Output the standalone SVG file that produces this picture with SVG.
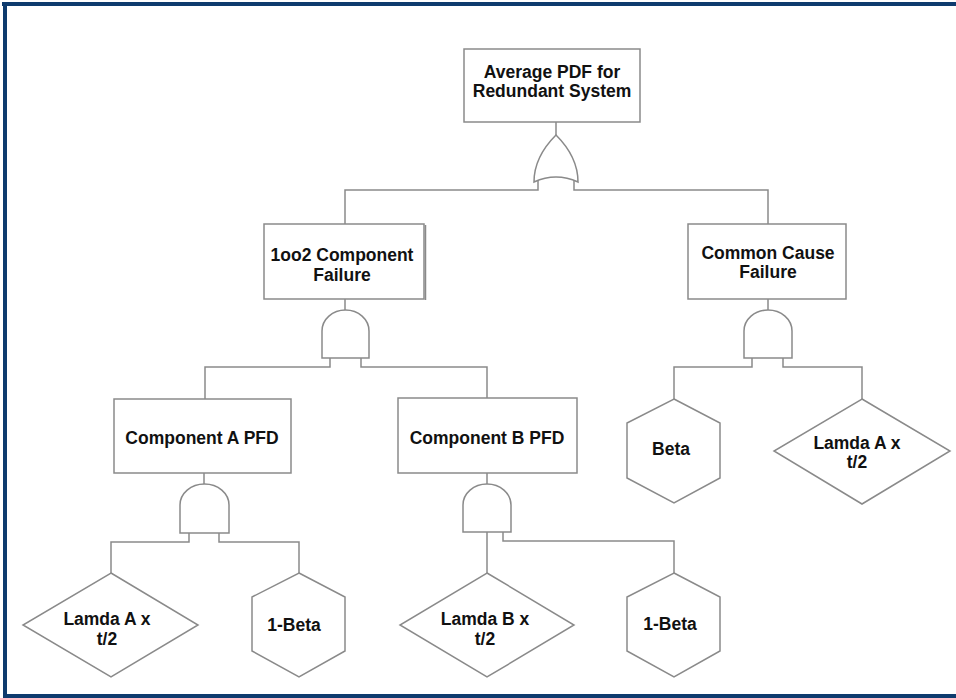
<svg xmlns="http://www.w3.org/2000/svg" width="956" height="698" viewBox="0 0 956 698">
<style>
.s{fill:#fff;stroke:#8a8a8a;stroke-width:1.5}
.c{fill:none;stroke:#8a8a8a;stroke-width:1.5}
.t{font-family:"Liberation Sans",Arial,sans-serif;font-weight:bold;font-size:17.5px;fill:#111;text-anchor:middle}
</style>
<rect x="0" y="0" width="956" height="698" fill="#fff"/>
<g id="frame" fill="#0e3b6e">
<rect x="2" y="2" width="954" height="4"/>
<rect x="3" y="2" width="4" height="696"/>
<rect x="3" y="694" width="953" height="4"/>
</g>
<g id="connectors" class="c">
<path d="M556,122 V136"/>
<path d="M345,224 V190 H538 V180"/>
<path d="M574,180 V190 H768 V224"/>
<path d="M345,299 V310"/>
<path d="M768,299 V310"/>
<path d="M330,357 V367 H205 V399"/>
<path d="M361,357 V367 H487 V398"/>
<path d="M752,357 V367 H674 V399"/>
<path d="M783,357 V367 H862 V399"/>
<path d="M204,473 V484"/>
<path d="M487,473 V484"/>
<path d="M189,533 V542 H111 V573"/>
<path d="M219,533 V542 H299 V573"/>
<path d="M487,532 V573"/>
<path d="M503,532 V541 H674 V573"/>
</g>
<g id="top">
<rect class="s" x="464" y="49" width="176" height="73"/>
<text class="t" x="552" y="77.5">Average PDF for</text>
<text class="t" x="552" y="97.2">Redundant System</text>
</g>
<g id="or-gate">
<path class="s" d="M534,182 C534,162 544,147 556,135 C568,147 578,162 578,182 Q556,172 534,182 Z"/>
</g>
<g id="n1oo2">
<rect class="s" x="264" y="224" width="160" height="75"/>
<path class="c" d="M425.5,225 V300" stroke-width="1"/>
<text class="t" x="342" y="261">1oo2 Component</text>
<text class="t" x="342" y="280.7">Failure</text>
</g>
<g id="gate-1oo2"><path class="s" d="M322,358 V331 A23.5,21 0 0 1 369,331 V358 Z"/></g>
<g id="ccf">
<rect class="s" x="688" y="224" width="158" height="75"/>
<text class="t" x="768" y="258.5">Common Cause</text>
<text class="t" x="768" y="278.2">Failure</text>
</g>
<g id="gate-ccf"><path class="s" d="M744,358 V331 A24,21 0 0 1 792,331 V358 Z"/></g>
<g id="compA">
<rect class="s" x="114" y="399" width="177" height="74"/>
<text class="t" x="202" y="443.5">Component A PFD</text>
</g>
<g id="gate-A"><path class="s" d="M180,533 V505 A24.5,21 0 0 1 229,505 V533 Z"/></g>
<g id="compB">
<rect class="s" x="398" y="398" width="179" height="75"/>
<text class="t" x="487" y="443.5">Component B PFD</text>
</g>
<g id="gate-B"><path class="s" d="M463,532 V505 A24,21 0 0 1 511,505 V532 Z"/></g>
<g id="beta">
<polygon class="s" points="674,399 720,423 720,478 674,503 627,478 627,423"/>
<text class="t" x="671" y="455">Beta</text>
</g>
<g id="lamdaA-ccf">
<polygon class="s" points="862,399 950,451 862,504 774,451"/>
<text class="t" x="857" y="448.5">Lamda A x</text>
<text class="t" x="857" y="468.2">t/2</text>
</g>
<g id="lamdaA">
<polygon class="s" points="111,573 198,625 111,677 23,625"/>
<text class="t" x="107" y="625">Lamda A x</text>
<text class="t" x="107" y="644.7">t/2</text>
</g>
<g id="oneBetaA">
<polygon class="s" points="299,573 345,597 345,651 299,677 252,651 252,597"/>
<text class="t" x="294" y="631">1-Beta</text>
</g>
<g id="lamdaB">
<polygon class="s" points="487,573 574,625 487,677 400,625"/>
<text class="t" x="485" y="625">Lamda B x</text>
<text class="t" x="485" y="644.7">t/2</text>
</g>
<g id="oneBetaB">
<polygon class="s" points="674,573 720,597 720,651 674,677 627,651 627,597"/>
<text class="t" x="670" y="630">1-Beta</text>
</g>
</svg>
